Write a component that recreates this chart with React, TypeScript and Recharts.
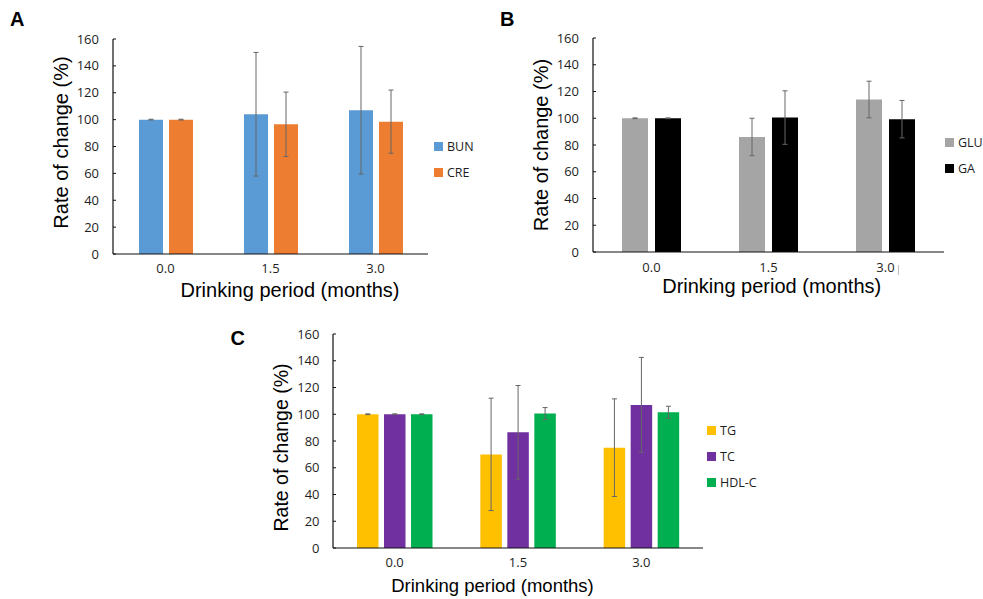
import { Bar, BarChart, ErrorBar, XAxis, YAxis } from "recharts"

const periods = ["0.0", "1.5", "3.0"]
const yTicks = [0, 20, 40, 60, 80, 100, 120, 140, 160]

// panel A
const bunMean = [100, 104, 107]
const bunSd = [0.3, 46, 47.5]
const creMean = [100, 96.5, 98.5]
const creSd = [0.3, 24, 23.5]

// panel B
const gluMean = [100, 86, 114]
const gluSd = [0.3, 14, 13.7]
const gaMean = [100, 100.5, 99.3]
const gaSd = [0.3, 20, 14]

// panel C
const tgMean = [100, 70, 75]
const tgSd = [0.3, 42, 36.5]
const tcMean = [100, 86.5, 107]
const tcSd = [0.3, 35, 35.5]
const hdlMean = [100, 100.5, 101.5]
const hdlSd = [0.3, 4.5, 4.5]

type Series = {
  key: string
  name: string
  color: string
  mean: number[]
  sd: number[]
}

const seriesA: Series[] = [
  { key: "bun", name: "BUN", color: "#5B9BD5", mean: bunMean, sd: bunSd },
  { key: "cre", name: "CRE", color: "#ED7D31", mean: creMean, sd: creSd },
]
const seriesB: Series[] = [
  { key: "glu", name: "GLU", color: "#A5A5A5", mean: gluMean, sd: gluSd },
  { key: "ga", name: "GA", color: "#000000", mean: gaMean, sd: gaSd },
]
const seriesC: Series[] = [
  { key: "tg", name: "TG", color: "#FFC000", mean: tgMean, sd: tgSd },
  { key: "tc", name: "TC", color: "#7030A0", mean: tcMean, sd: tcSd },
  { key: "hdl", name: "HDL-C", color: "#00B050", mean: hdlMean, sd: hdlSd },
]

function buildData(series: Series[]) {
  return periods.map((p, i) => {
    const row: Record<string, number | string> = { period: p }
    series.forEach((s) => {
      row[s.key] = s.mean[i]
      row[s.key + "Sd"] = s.sd[i]
    })
    return row
  })
}

const tickFont = { fontFamily: "'Open Sans', sans-serif", fontSize: 13, fill: "#1e1e1e" }

type PanelProps = {
  series: Series[]
  left: number
  top: number
  width: number
  height: number
  margin: { top: number; right: number; bottom: number; left: number }
  barSize: number
  barGap: number
  legendLeft: number
  legendTop: number
  xTickMargin: number
  yTickMargin: number
}

function Panel(p: PanelProps) {
  return (
    <div style={{ position: "absolute", left: p.left, top: p.top, width: p.width, height: p.height }}>
      <BarChart
        width={p.width}
        height={p.height}
        data={buildData(p.series)}
        margin={p.margin}
        barSize={p.barSize}
        barGap={p.barGap}
      >
        <XAxis
          dataKey="period"
          height={20}
          tickLine={false}
          tickSize={0}
          tickMargin={p.xTickMargin}
          axisLine={{ stroke: "#111", strokeWidth: 1.2 }}
          tick={tickFont}
        />
        <YAxis
          type="number"
          domain={[0, 160]}
          ticks={yTicks}
          interval={0}
          width={30}
          tickSize={-3}
          tickMargin={p.yTickMargin}
          axisLine={{ stroke: "#111", strokeWidth: 1.2 }}
          tickLine={{ stroke: "#111" }}
          tick={tickFont}
        />
        {p.series.map((s) => (
          <Bar key={s.key} dataKey={s.key} name={s.name} fill={s.color} isAnimationActive={false}>
            <ErrorBar dataKey={s.key + "Sd"} width={2.5} stroke="#666" strokeWidth={1} />
          </Bar>
        ))}
      </BarChart>
      <div style={{ position: "absolute", left: p.legendLeft, top: p.legendTop }}>
        {p.series.map((s) => (
          <div
            key={s.key}
            style={{
              display: "flex",
              alignItems: "center",
              height: 26,
              fontFamily: "'Open Sans', sans-serif",
              fontSize: 12.5,
              color: "#1e1e1e",
              whiteSpace: "nowrap",
            }}
          >
            <span
              style={{
                display: "inline-block",
                width: 9,
                height: 9,
                background: s.color,
                marginRight: 4,
              }}
            />
            <span>{s.name}</span>
          </div>
        ))}
      </div>
    </div>
  )
}

const titleFont = "'Liberation Sans', Arial, sans-serif"

export default function App() {
  return (
    <div style={{ position: "absolute", left: 0, top: 0, width: 983, height: 599, background: "#fff" }}>
      <Panel
        series={seriesA}
        left={0}
        top={0}
        width={480}
        height={300}
        margin={{ top: 39, right: 52, bottom: 26, left: 83 }}
        barSize={24}
        barGap={6}
        legendLeft={434}
        legendTop={133}
        xTickMargin={10}
        yTickMargin={17}
      />
      <Panel
        series={seriesB}
        left={490}
        top={0}
        width={493}
        height={300}
        margin={{ top: 38, right: 39, bottom: 28, left: 73 }}
        barSize={26}
        barGap={7}
        legendLeft={455}
        legendTop={129}
        xTickMargin={11}
        yTickMargin={17}
      />
      <Panel
        series={seriesC}
        left={220}
        top={310}
        width={560}
        height={289}
        margin={{ top: 24, right: 77, bottom: 31, left: 83 }}
        barSize={21.5}
        barGap={5.5}
        legendLeft={487}
        legendTop={107}
        xTickMargin={10}
        yTickMargin={16.5}
      />
      <svg
        width={983}
        height={599}
        style={{ position: "absolute", left: 0, top: 0, pointerEvents: "none" }}
      >
        {/* stray cursor mark next to the 3.0 label in panel B */}
        <line x1={898.5} y1={265} x2={898.5} y2={275} stroke="#bbb" strokeWidth={1} />
        <g fontFamily={titleFont} fill="#000">
          <text x={10} y={26} fontSize={20} fontWeight="bold">A</text>
          <text x={500} y={26} fontSize={20} fontWeight="bold">B</text>
          <text x={230.5} y={345} fontSize={20} fontWeight="bold">C</text>

          <text transform="translate(67.5,142.5) rotate(-90)" textAnchor="middle" fontSize={20}>
            Rate of change (%)
          </text>
          <text transform="translate(547.5,145) rotate(-90)" textAnchor="middle" fontSize={20}>
            Rate of change (%)
          </text>
          <text transform="translate(287.5,447.5) rotate(-90)" textAnchor="middle" fontSize={19.5}>
            Rate of change (%)
          </text>

          <text x={290} y={297} textAnchor="middle" fontSize={20}>Drinking period (months)</text>
          <text x={771.7} y={292.5} textAnchor="middle" fontSize={20}>Drinking period (months)</text>
          <text x={492.5} y={591.5} textAnchor="middle" fontSize={18.5}>Drinking period (months)</text>
        </g>
      </svg>
    </div>
  )
}
